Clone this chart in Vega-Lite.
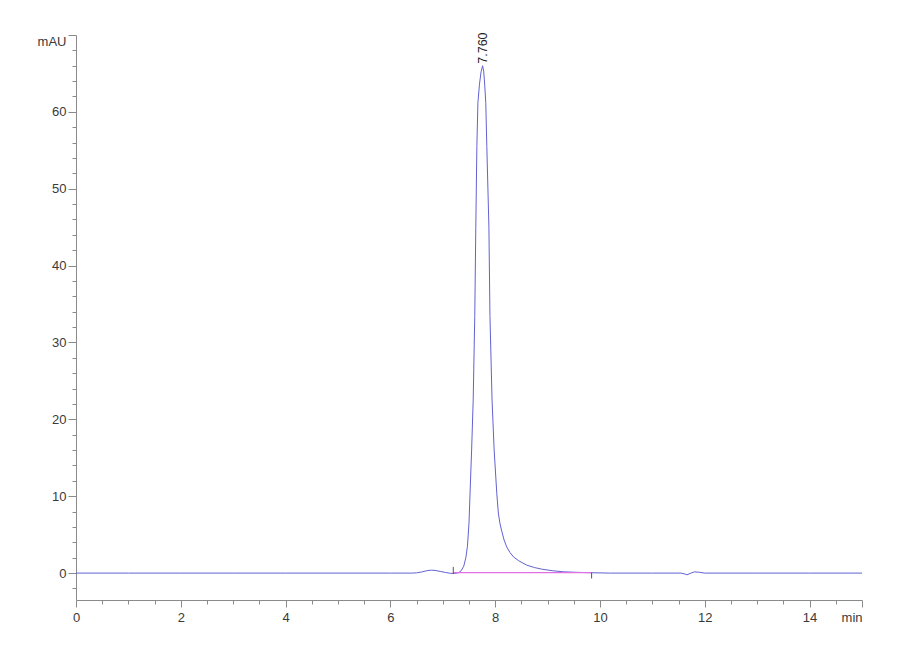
{
  "$schema": "https://vega.github.io/schema/vega-lite/v6.json",
  "autosize": {"type": "none"},
  "width": 786,
  "height": 565,
  "padding": {"left": 76, "top": 35, "right": 38, "bottom": 60},
  "background": "white",
  "config": {
    "view": {"stroke": null},
    "axis": {
      "labelFont": "Liberation Sans, sans-serif",
      "labelFontSize": 13,
      "labelColor": "#3a3a3a",
      "domainColor": "#8a8a8a",
      "tickColor": "#8a8a8a",
      "grid": false,
      "title": null
    }
  },
  "datasets": {
    "trace": [
      {"t": 0, "v": 0}, {"t": 1, "v": 0}, {"t": 2, "v": 0}, {"t": 3, "v": 0}, {"t": 4, "v": 0},
      {"t": 5, "v": 0}, {"t": 6, "v": 0}, {"t": 6.4, "v": 0}, {"t": 6.5, "v": 0.03},
      {"t": 6.6, "v": 0.15}, {"t": 6.7, "v": 0.32}, {"t": 6.78, "v": 0.38}, {"t": 6.85, "v": 0.35},
      {"t": 6.95, "v": 0.22}, {"t": 7.05, "v": 0.08}, {"t": 7.15, "v": -0.03}, {"t": 7.22, "v": -0.05},
      {"t": 7.3, "v": 0.05}, {"t": 7.35, "v": 0.3}, {"t": 7.4, "v": 0.9}, {"t": 7.44, "v": 2.0},
      {"t": 7.47, "v": 3.5}, {"t": 7.5, "v": 6.5}, {"t": 7.52, "v": 10.4}, {"t": 7.55, "v": 16},
      {"t": 7.58, "v": 22.5}, {"t": 7.61, "v": 33.4}, {"t": 7.63, "v": 45}, {"t": 7.65, "v": 55.5},
      {"t": 7.67, "v": 61.2}, {"t": 7.70, "v": 63.6}, {"t": 7.73, "v": 65.2}, {"t": 7.76, "v": 66},
      {"t": 7.78, "v": 65.3}, {"t": 7.80, "v": 63.5}, {"t": 7.82, "v": 61.2}, {"t": 7.84, "v": 55.5},
      {"t": 7.88, "v": 45}, {"t": 7.90, "v": 33.4}, {"t": 7.94, "v": 22.5}, {"t": 7.98, "v": 16},
      {"t": 8.03, "v": 10.4}, {"t": 8.06, "v": 7.8}, {"t": 8.09, "v": 6.5}, {"t": 8.12, "v": 5.6},
      {"t": 8.17, "v": 4.3}, {"t": 8.22, "v": 3.4}, {"t": 8.28, "v": 2.7}, {"t": 8.35, "v": 2.1},
      {"t": 8.45, "v": 1.6}, {"t": 8.6, "v": 1.04}, {"t": 8.75, "v": 0.72}, {"t": 8.9, "v": 0.5},
      {"t": 9.1, "v": 0.3}, {"t": 9.3, "v": 0.17}, {"t": 9.55, "v": 0.1}, {"t": 9.8, "v": 0.05},
      {"t": 10.2, "v": 0}, {"t": 11, "v": 0}, {"t": 11.55, "v": 0},
      {"t": 11.62, "v": -0.12}, {"t": 11.66, "v": -0.22}, {"t": 11.72, "v": -0.05},
      {"t": 11.8, "v": 0.16}, {"t": 11.9, "v": 0.1}, {"t": 12.0, "v": 0}, {"t": 13, "v": 0},
      {"t": 14, "v": 0}, {"t": 15, "v": 0}
    ],
    "baseline": [{"t": 7.2, "v": 0.05}, {"t": 9.84, "v": 0.05}],
    "markers": [{"t": 7.2, "a": -0.1, "b": 0.8}, {"t": 9.84, "a": 0.05, "b": -0.7}],
    "peaks": [{"t": 7.76, "v": 66, "label": "7.760"}]
  },
  "layer": [
    {
      "data": {"name": "trace"},
      "mark": {"type": "line", "color": "#6262d2", "strokeWidth": 1, "interpolate": "linear"},
      "encoding": {
        "x": {
          "field": "t", "type": "quantitative",
          "scale": {"domain": [0, 15], "nice": false, "zero": false},
          "axis": {
            "orient": "bottom",
            "values": [0.5, 1, 1.5, 2.5, 3, 3.5, 4.5, 5, 5.5, 6.5, 7, 7.5, 8.5, 9, 9.5, 10.5, 11, 11.5, 12.5, 13, 13.5, 14.5],
            "labels": false, "tickSize": 4, "domain": false
          }
        },
        "y": {
          "field": "v", "type": "quantitative",
          "scale": {"domain": [-3.5, 70], "nice": false, "zero": false},
          "axis": {
            "orient": "left",
            "values": [-2, 2, 4, 6, 8, 12, 14, 16, 18, 22, 24, 26, 28, 32, 34, 36, 38, 42, 44, 46, 48, 52, 54, 56, 58, 62, 64, 66, 68],
            "labels": false, "tickSize": 4, "domain": false
          }
        }
      }
    },
    {
      "data": {"name": "baseline"},
      "mark": {"type": "line", "color": "#e070e6", "strokeWidth": 1.3},
      "encoding": {
        "x": {
          "field": "t", "type": "quantitative",
          "axis": {
            "orient": "bottom",
            "values": [0, 2, 4, 6, 8, 10, 12, 14, 15],
            "labelExpr": "datum.value == 15 ? 'min' : datum.label",
            "labelAlign": {"condition": {"test": "datum.value == 15", "value": "right"}, "value": "center"},
            "tickSize": 7, "labelPadding": 4
          }
        },
        "y": {
          "field": "v", "type": "quantitative",
          "axis": {
            "orient": "left",
            "values": [0, 10, 20, 30, 40, 50, 60, 70],
            "labelExpr": "datum.value == 70 ? 'mAU' : datum.label",
            "labelFlush": true,
            "tickSize": 8, "labelPadding": 2
          }
        }
      }
    },
    {
      "data": {"name": "markers"},
      "mark": {"type": "rule", "color": "#555555", "strokeWidth": 1},
      "encoding": {
        "x": {"field": "t", "type": "quantitative", "axis": null},
        "y": {"field": "a", "type": "quantitative", "axis": null},
        "y2": {"field": "b"}
      }
    },
    {
      "data": {"name": "peaks"},
      "mark": {"type": "text", "angle": 270, "align": "left", "baseline": "middle", "dx": 2, "font": "Liberation Sans, sans-serif", "fontSize": 12.5, "color": "#222222"},
      "encoding": {
        "x": {"field": "t", "type": "quantitative", "axis": null},
        "y": {"field": "v", "type": "quantitative", "axis": null},
        "text": {"field": "label"}
      }
    }
  ],
  "resolve": {"axis": {"x": "independent", "y": "independent"}}
}
